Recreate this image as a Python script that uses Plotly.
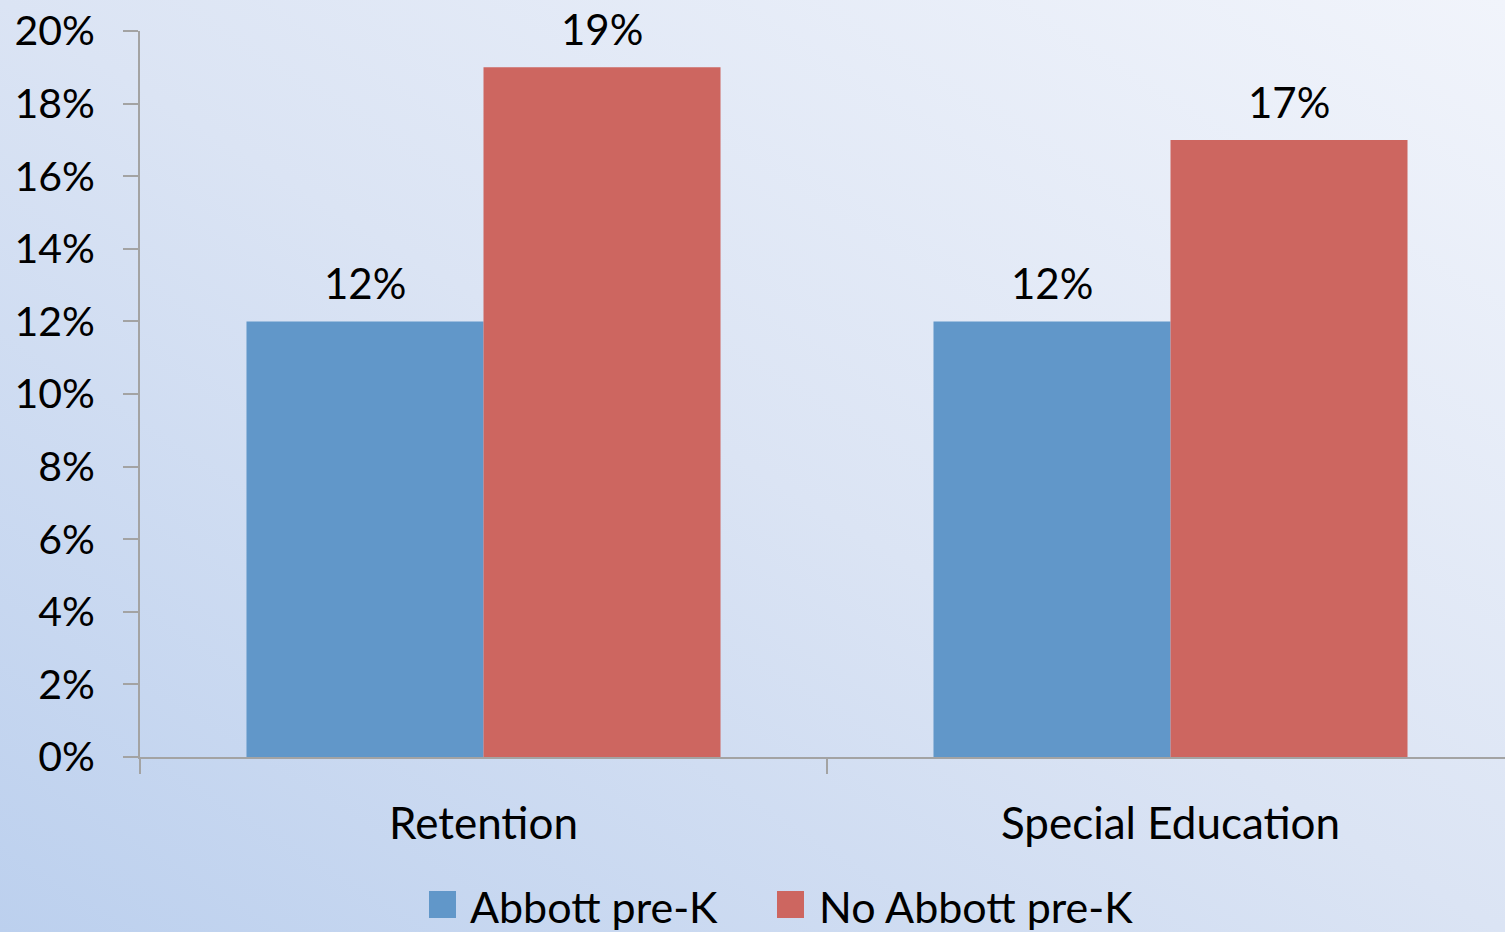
import base64
import plotly.graph_objects as go

# ---- data ----
categories = ["Retention", "Special Education"]
series_names = ["Abbott pre-K", "No Abbott pre-K"]
abbott = [12, 12]
no_abbott = [19, 17]
y_ticks = [0, 2, 4, 6, 8, 10, 12, 14, 16, 18, 20]

colors = ["#6197C9", "#CD6660"]
FONT = "Lato"

W, H = 1505, 932
L, R, T, B = 140, 0, 31, 175
PW, PH = W - L - R, H - T - B
BARGAP = 0.31

def px_x(p):
    return (p - L) / PW

def px_y(p):
    return (H - B - p) / PH

fig = go.Figure()
n_series = 2
bar_w = (1 - BARGAP) / n_series
for i, (name, vals, col) in enumerate(zip(series_names, [abbott, no_abbott], colors)):
    fig.add_trace(go.Bar(
        name=name, x=categories, y=vals,
        marker=dict(color=col, line=dict(width=0)),
        showlegend=False,
    ))
    offset = (i - (n_series - 1) / 2) * bar_w
    for ci, v in enumerate(vals):
        fig.add_annotation(x=ci + offset, y=v, xref="x", yref="y",
                           text=f"{v}%", showarrow=False, yanchor="bottom",
                           yshift=11, font=dict(family=FONT, size=42, color="black"))

# background gradient
svg = f'''<svg xmlns="http://www.w3.org/2000/svg" width="{W}" height="{H}" viewBox="0 0 {W} {H}" preserveAspectRatio="none">
<defs><linearGradient id="g" x1="0" y1="1" x2="1" y2="0">
<stop offset="0" stop-color="#bcd0ee"/><stop offset="0.5" stop-color="#dbe4f4"/><stop offset="1" stop-color="#f1f4fb"/>
</linearGradient></defs><rect width="{W}" height="{H}" fill="url(#g)"/></svg>'''
src = "data:image/svg+xml;base64," + base64.b64encode(svg.encode()).decode()
fig.add_layout_image(dict(source=src, xref="paper", yref="paper",
                          x=px_x(0), y=px_y(0), sizex=W / PW, sizey=H / PH,
                          xanchor="left", yanchor="top", sizing="stretch", layer="below"))

# legend with large squares
legend_items = [(429, 468), (777, 817)]
for (sx, tx), name, col in zip(legend_items, series_names, colors):
    fig.add_shape(type="rect", xref="paper", yref="paper",
                  x0=px_x(sx), x1=px_x(sx + 27), y0=px_y(918), y1=px_y(891),
                  fillcolor=col, line=dict(width=0))
    fig.add_annotation(xref="paper", yref="paper", x=px_x(tx), y=px_y(906),
                       xanchor="left", yanchor="middle", text=name, showarrow=False,
                       font=dict(family=FONT, size=43, color="black"))

fig.update_layout(
    width=W, height=H,
    margin=dict(l=L, r=R, t=T, b=B, pad=0),
    barmode="group", bargap=BARGAP, bargroupgap=0,
    paper_bgcolor="rgba(0,0,0,0)", plot_bgcolor="rgba(0,0,0,0)",
    font=dict(family=FONT, color="black"),
    showlegend=False,
)
fig.update_xaxes(
    range=[-0.5, -0.5 + PW / 687], tickson="boundaries",
    showline=True, linecolor="#a3a3a3", linewidth=2,
    ticks="outside", ticklen=15, tickwidth=2, tickcolor="#a3a3a3",
    tickfont=dict(family=FONT, size=44, color="black"),
    ticklabelstandoff=27, showgrid=False, zeroline=False,
)
fig.update_yaxes(
    range=[0, 20], tickvals=y_ticks, ticktext=[f"{v}%" for v in y_ticks],
    showline=True, linecolor="#a3a3a3", linewidth=2,
    ticks="outside", ticklen=15, tickwidth=2, tickcolor="#a3a3a3",
    tickfont=dict(family=FONT, size=41, color="black"),
    ticklabelstandoff=20, showgrid=False, zeroline=False,
)

fig.write_html("out.html", config={"displayModeBar": False},
               post_script="document.body.style.margin='0';document.body.style.overflow='hidden';")
